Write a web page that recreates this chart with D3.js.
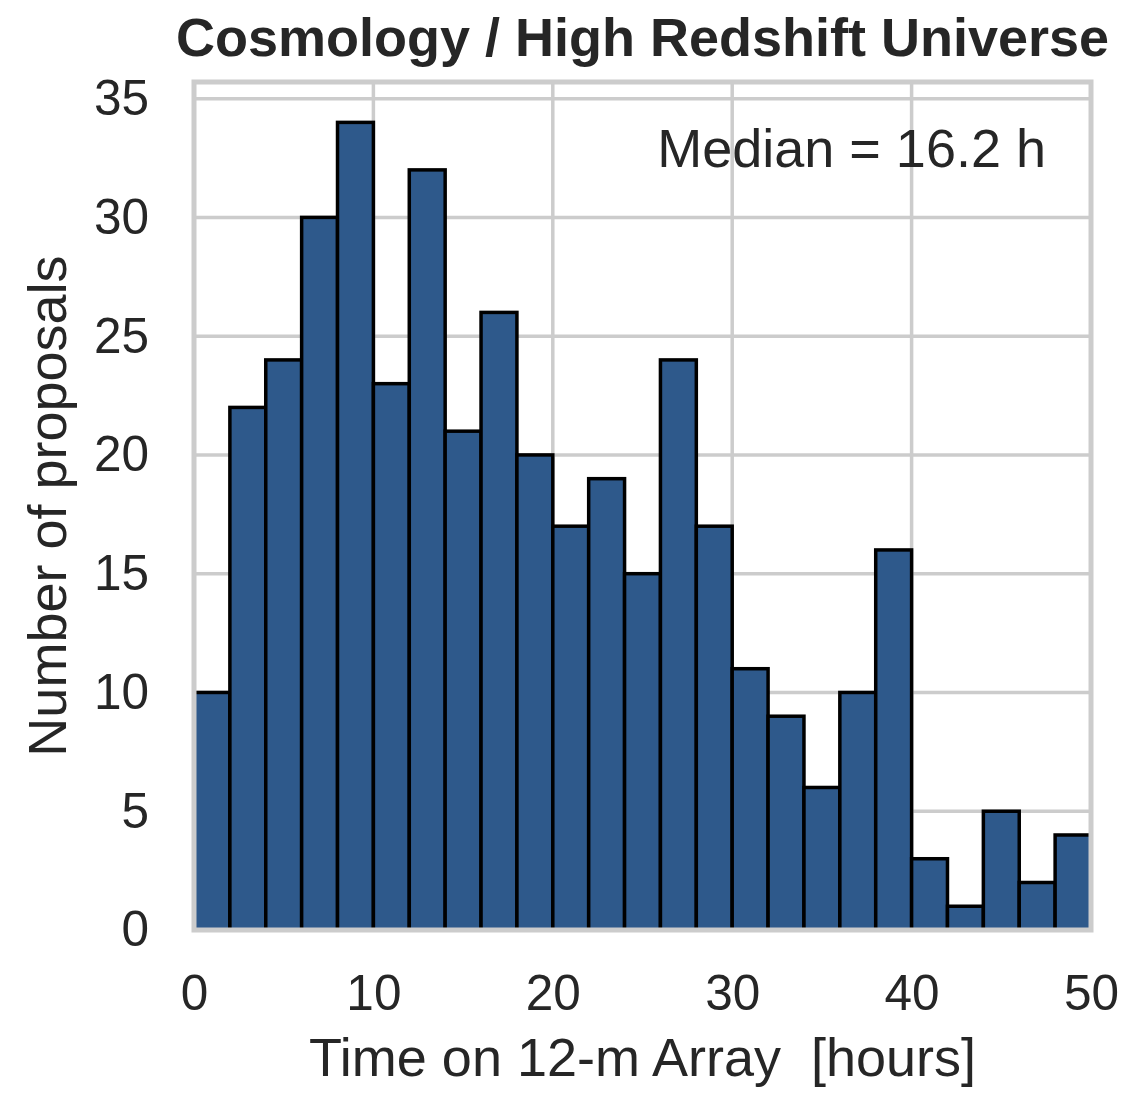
<!DOCTYPE html>
<html>
<head>
<meta charset="utf-8">
<script src="https://cdn.jsdelivr.net/npm/d3@7"></script>
<style>
  html, body { margin: 0; padding: 0; background: #fff; }
  svg text { font-family: Arial, "Liberation Sans", sans-serif; fill: #262626; }
</style>
</head>
<body>
<svg id="chart" width="1122" height="1093"></svg>
<script>
// histogram of proposal times, 2-hour bins from 0 to 50
const binStarts = [0, 2, 4, 6, 8, 10, 12, 14, 16, 18, 20, 22, 24, 26, 28, 30, 32, 34, 36, 38, 40, 42, 44, 46, 48];
const counts = [10, 22, 24, 30, 34, 23, 32, 21, 26, 20, 17, 19, 15, 24, 17, 11, 9, 6, 10, 16, 3, 1, 5, 2, 4];
const binWidth = 2;
const xTicks = [0, 10, 20, 30, 40, 50];
const yTicks = [0, 5, 10, 15, 20, 25, 30, 35];
const titleText = 'Cosmology / High Redshift Universe';
const xLabel = 'Time on 12-m Array  [hours]';
const yLabel = 'Number of proposals';
const medianText = 'Median = 16.2 h';

const plot = { left: 194, right: 1091, top: 82, bottom: 930 };
const GRID = '#cccccc';

const svg = d3.select('#chart');

const x = d3.scaleLinear().domain([0, 50]).range([plot.left, plot.right]);
const y = d3.scaleLinear().domain([0, d3.max(counts) * 1.05]).range([plot.bottom, plot.top]);

// gridlines (below bars)
const grid = svg.append('g').attr('class', 'grid');
grid.selectAll('line.h')
  .data(yTicks)
  .join('line')
  .attr('class', 'h')
  .attr('x1', plot.left).attr('x2', plot.right)
  .attr('y1', d => y(d)).attr('y2', d => y(d))
  .attr('stroke', GRID).attr('stroke-width', 3.5);
grid.selectAll('line.v')
  .data(xTicks)
  .join('line')
  .attr('class', 'v')
  .attr('y1', plot.top).attr('y2', plot.bottom)
  .attr('x1', d => x(d)).attr('x2', d => x(d))
  .attr('stroke', GRID).attr('stroke-width', 3.5);

// bars
svg.append('g').attr('class', 'bars')
  .selectAll('rect')
  .data(binStarts.map((s, i) => ({ start: s, count: counts[i] })))
  .join('rect')
  .attr('x', d => x(d.start))
  .attr('width', d => x(d.start + binWidth) - x(d.start))
  .attr('y', d => y(d.count))
  .attr('height', d => y(0) - y(d.count))
  .attr('fill', '#2e598b')
  .attr('stroke', '#000')
  .attr('stroke-width', 3.5);

// frame (spines drawn over the bars)
svg.append('rect')
  .attr('x', plot.left).attr('y', plot.top)
  .attr('width', plot.right - plot.left)
  .attr('height', plot.bottom - plot.top)
  .attr('fill', 'none')
  .attr('stroke', GRID)
  .attr('stroke-width', 5);

// axes, tick labels only
const yAxis = svg.append('g')
  .attr('transform', `translate(${plot.left},0)`)
  .call(d3.axisLeft(y).tickValues(yTicks).tickSize(0).tickPadding(45).tickFormat(d3.format('d')));
const xAxis = svg.append('g')
  .attr('transform', `translate(0,${plot.bottom})`)
  .call(d3.axisBottom(x).tickValues(xTicks).tickSize(0).tickPadding(45).tickFormat(d3.format('d')));
[yAxis, xAxis].forEach(a => {
  a.select('.domain').remove();
  a.selectAll('text').attr('font-size', 49.5).attr('fill', '#262626')
    .attr('font-family', 'Arial, "Liberation Sans", sans-serif');
});

const midX = (plot.left + plot.right) / 2;

svg.append('text')
  .attr('x', midX).attr('y', 56)
  .attr('text-anchor', 'middle')
  .attr('font-size', 54).attr('font-weight', 'bold')
  .text(titleText);

svg.append('text')
  .attr('x', midX).attr('y', 1076)
  .attr('text-anchor', 'middle')
  .attr('font-size', 54)
  .style('white-space', 'pre')
  .text(xLabel);

svg.append('text')
  .attr('transform', `translate(66,${(plot.top + plot.bottom) / 2}) rotate(-90)`)
  .attr('text-anchor', 'middle')
  .attr('font-size', 54)
  .text(yLabel);

svg.append('text')
  .attr('x', 1046).attr('y', 167)
  .attr('text-anchor', 'end')
  .attr('font-size', 54)
  .text(medianText);
</script>
</body>
</html>
